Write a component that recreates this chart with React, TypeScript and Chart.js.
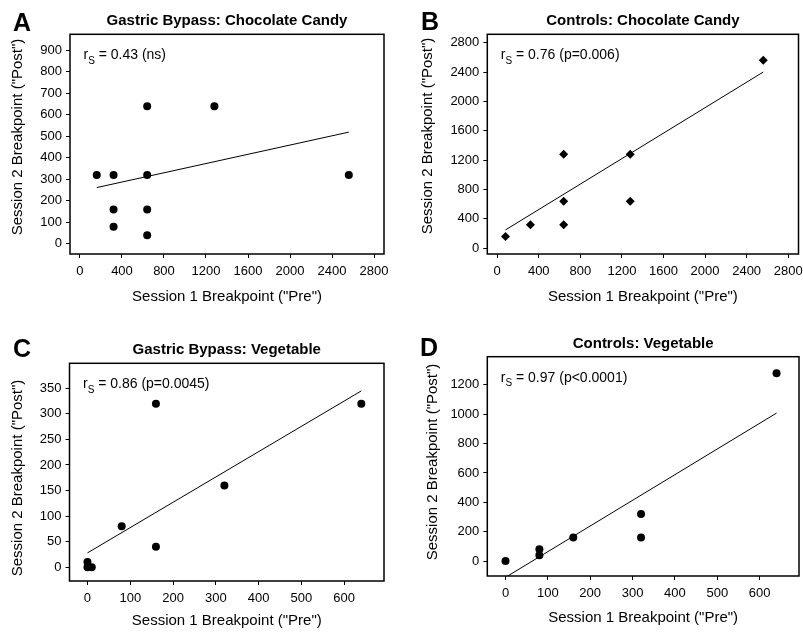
import React, { useEffect, useRef } from "react";
import { Chart, registerables } from "chart.js";
Chart.register(...registerables);

// ---------- DATA ----------
// Panel A: Gastric Bypass, Chocolate Candy
const aPre = [160, 320, 640, 2560, 320, 640, 320, 640, 640, 1280];
const aPost = [320, 320, 320, 320, 160, 160, 80, 40, 640, 640];
const aFitPre = [160, 2560];
const aFitPost = [262, 520];
const aXTicks = [0, 400, 800, 1200, 1600, 2000, 2400, 2800];
const aYTicks = [0, 100, 200, 300, 400, 500, 600, 700, 800, 900];

// Panel B: Controls, Chocolate Candy
const bPre = [80, 320, 640, 640, 640, 1280, 1280, 2560];
const bPost = [160, 320, 320, 640, 1280, 1280, 640, 2560];
const bFitPre = [80, 2560];
const bFitPost = [250, 2400];
const bXTicks = [0, 400, 800, 1200, 1600, 2000, 2400, 2800];
const bYTicks = [0, 400, 800, 1200, 1600, 2000, 2400, 2800];

// Panel C: Gastric Bypass, Vegetable
const cPre = [0, 0, 10, 80, 160, 160, 320, 640];
const cPost = [10, 0, 0, 80, 320, 40, 160, 320];
const cFitPre = [0, 640];
const cFitPost = [28, 345];
const cXTicks = [0, 100, 200, 300, 400, 500, 600];
const cYTicks = [0, 50, 100, 150, 200, 250, 300, 350];

// Panel D: Controls, Vegetable
const dPre = [0, 80, 80, 160, 320, 320, 640];
const dPost = [0, 80, 40, 160, 320, 160, 1280];
const dFitPre = [0, 640];
const dFitPost = [-111, 1008];
const dXTicks = [0, 100, 200, 300, 400, 500, 600];
const dYTicks = [0, 200, 400, 600, 800, 1000, 1200];

const letters = ["A", "B", "C", "D"];
const titles = [
  "Gastric Bypass: Chocolate Candy",
  "Controls: Chocolate Candy",
  "Gastric Bypass: Vegetable",
  "Controls: Vegetable",
];
const statValues = ["0.43 (ns)", "0.76 (p=0.006)", "0.86 (p=0.0045)", "0.97 (p<0.0001)"];
const xTitle = 'Session 1 Breakpoint ("Pre")';
const yTitle = 'Session 2 Breakpoint ("Post")';

const FONT = '"Liberation Sans", Arial, Helvetica, sans-serif';

type Panel = {
  pre: number[]; post: number[]; fitPre: number[]; fitPost: number[];
  xTicks: number[]; yTicks: number[];
  xMin: number; xMax: number; yMin: number; yMax: number;
  pointStyle: string; radius: number;
  // layout (canvas-relative)
  cx: number; cy: number; cw: number; ch: number;
  yw: number; top: number; padR: number; xh: number;
  letterX: number; letterY: number;
  yTitleX: number; yTitleY: number; xTitleY: number;
};

const panels: Panel[] = [
  {
    pre: aPre, post: aPost, fitPre: aFitPre, fitPost: aFitPost, xTicks: aXTicks, yTicks: aYTicks,
    xMin: -95, xMax: 2895, yMin: -47, yMax: 975, pointStyle: "circle", radius: 4,
    cx: 0, cy: 0, cw: 400, ch: 316, yw: 70, top: 34.3, padR: 16, xh: 62,
    letterX: 13, letterY: 31, yTitleX: 18, yTitleY: 137, xTitleY: 297,
  },
  {
    pre: bPre, post: bPost, fitPre: bFitPre, fitPost: bFitPost, xTicks: bXTicks, yTicks: bYTicks,
    xMin: -95, xMax: 2899, yMin: -78, yMax: 2914, pointStyle: "rectRot", radius: 4.5,
    cx: 400, cy: 0, cw: 403, ch: 316, yw: 87.3, top: 34.3, padR: 1.3, xh: 62,
    letterX: 21, letterY: 30, yTitleX: 28, yTitleY: 136, xTitleY: 297,
  },
  {
    pre: cPre, post: cPost, fitPre: cFitPre, fitPost: cFitPost, xTicks: cXTicks, yTicks: cYTicks,
    xMin: -42, xMax: 693, yMin: -27, yMax: 399, pointStyle: "circle", radius: 4,
    cx: 0, cy: 316, cw: 400, ch: 317, yw: 69.5, top: 47.3, padR: 16, xh: 52,
    letterX: 13, letterY: 41, yTitleX: 18, yTitleY: 162, xTitleY: 305,
  },
  {
    pre: dPre, post: dPost, fitPre: dFitPre, fitPost: dFitPost, xTicks: dXTicks, yTicks: dYTicks,
    xMin: -43, xMax: 693, yMin: -102, yMax: 1392, pointStyle: "circle", radius: 4,
    cx: 400, cy: 316, cw: 403, ch: 317, yw: 87.3, top: 40.7, padR: 1.3, xh: 57,
    letterX: 20, letterY: 40, yTitleX: 33, yTitleY: 146, xTitleY: 302,
  },
];

function PanelChart({ idx }: { idx: number }) {
  const ref = useRef<HTMLCanvasElement | null>(null);
  const p = panels[idx];
  useEffect(() => {
    if (!ref.current) return;
    const deco = {
      id: "deco" + idx,
      afterDraw(chart: any) {
        const { ctx, chartArea: ca } = chart;
        ctx.save();
        ctx.strokeStyle = "#000";
        ctx.lineWidth = 1.5;
        ctx.strokeRect(ca.left, ca.top, ca.right - ca.left, ca.bottom - ca.top);
        ctx.fillStyle = "#000";
        // panel letter
        ctx.font = `bold 25px ${FONT}`;
        ctx.textAlign = "left";
        ctx.textBaseline = "alphabetic";
        ctx.fillText(letters[idx], p.letterX, p.letterY);
        // title
        ctx.font = `bold 15px ${FONT}`;
        ctx.textAlign = "center";
        ctx.textBaseline = "middle";
        ctx.fillText(titles[idx], (ca.left + ca.right) / 2, ca.top - 13);
        // stat annotation r_S
        let sx = ca.left + 13.5;
        const sy = ca.top + 21;
        ctx.textAlign = "left";
        ctx.font = `14px ${FONT}`;
        ctx.fillText("r", sx, sy);
        sx += ctx.measureText("r").width;
        ctx.font = `10px ${FONT}`;
        ctx.fillText("S", sx, sy + 6);
        sx += ctx.measureText("S").width;
        ctx.font = `14px ${FONT}`;
        ctx.fillText(" = " + statValues[idx], sx, sy);
        // axis titles
        ctx.font = `15px ${FONT}`;
        ctx.textAlign = "center";
        ctx.fillText(xTitle, (ca.left + ca.right) / 2, p.xTitleY);
        ctx.translate(p.yTitleX, p.yTitleY);
        ctx.rotate(-Math.PI / 2);
        ctx.fillText(yTitle, 0, 0);
        ctx.restore();
      },
    };
    const tickFont = { family: FONT, size: 13 };
    const chart = new Chart(ref.current, {
      type: "scatter",
      data: {
        datasets: [
          {
            data: p.pre.map((x, i) => ({ x, y: p.post[i] })),
            pointStyle: p.pointStyle as any,
            pointRadius: p.radius,
            backgroundColor: "#000",
            borderColor: "#000",
            borderWidth: 0,
          },
          {
            data: p.fitPre.map((x, i) => ({ x, y: p.fitPost[i] })),
            showLine: true,
            pointRadius: 0,
            borderColor: "#000",
            borderWidth: 1,
            backgroundColor: "#000",
          },
        ],
      },
      options: {
        animation: false,
        responsive: false,
        events: [],
        layout: { padding: { left: 0, top: p.top, right: p.padR, bottom: 0 } },
        plugins: { legend: { display: false }, tooltip: { enabled: false }, title: { display: false } },
        scales: {
          x: {
            type: "linear",
            min: p.xMin,
            max: p.xMax,
            afterBuildTicks: (s: any) => {
              s.ticks = p.xTicks.map((v) => ({ value: v }));
            },
            afterFit: (s: any) => {
              s.height = p.xh;
              s.paddingLeft = 0;
              s.paddingRight = 0;
            },
            ticks: {
              autoSkip: false, maxRotation: 0, minRotation: 0, padding: 6,
              color: "#000", font: tickFont, callback: (v: any) => String(v),
            },
            grid: { drawOnChartArea: false, drawTicks: true, tickLength: 4, color: "#000", lineWidth: 1 },
            border: { display: false },
          },
          y: {
            type: "linear",
            min: p.yMin,
            max: p.yMax,
            afterBuildTicks: (s: any) => {
              s.ticks = p.yTicks.map((v) => ({ value: v }));
            },
            afterFit: (s: any) => {
              s.width = p.yw;
              s.paddingTop = 0;
              s.paddingBottom = 0;
            },
            ticks: {
              autoSkip: false, padding: 4,
              color: "#000", font: tickFont, callback: (v: any) => String(v),
            },
            grid: { drawOnChartArea: false, drawTicks: true, tickLength: 4, color: "#000", lineWidth: 1 },
            border: { display: false },
          },
        },
      },
      plugins: [deco],
    } as any);
    return () => chart.destroy();
  }, [idx]);
  return (
    <canvas
      ref={ref}
      width={p.cw}
      height={p.ch}
      style={{ position: "absolute", left: p.cx, top: p.cy, width: p.cw, height: p.ch }}
    />
  );
}

export default function App() {
  return (
    <div style={{ position: "absolute", left: 0, top: 0, width: 803, height: 633, background: "#fff", overflow: "hidden" }}>
      {panels.map((_, i) => (
        <PanelChart key={i} idx={i} />
      ))}
    </div>
  );
}
